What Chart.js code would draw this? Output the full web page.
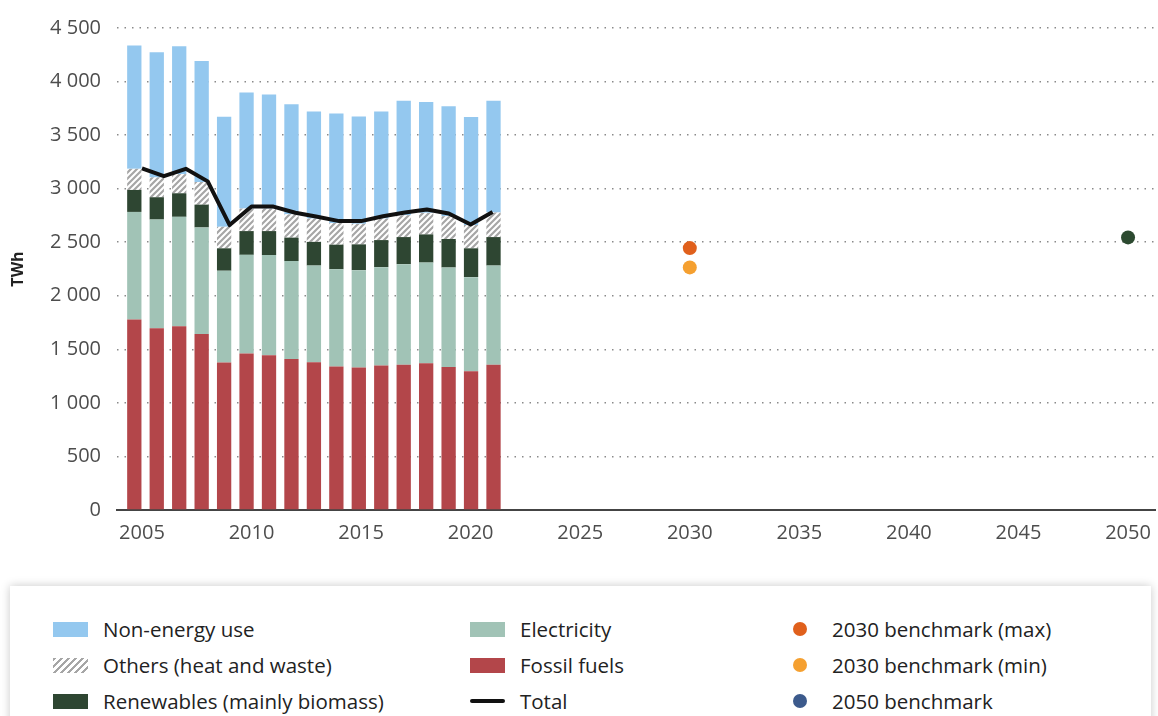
<!DOCTYPE html>
<html>
<head>
<meta charset="utf-8">
<script src="https://cdn.jsdelivr.net/npm/chart.js@4"></script>
<style>
    body { margin: 0; background: #fff; font-family: "Open Sans", "Noto Sans", sans-serif; overflow: hidden; }
    #chartBox { position: absolute; left: 0; top: 0; width: 1158px; height: 560px; }
    #legendBox {
        position: absolute; left: 10px; top: 586px; width: 1141px; height: 150px;
        background: #fff; box-shadow: 0 0 9px rgba(0, 0, 0, 0.22);
    }
    .legend-col { position: absolute; top: 25px; }
    .legend-item { display: flex; align-items: center; height: 36px; font-size: 20.5px; color: #222; white-space: nowrap; }
    .swatch { width: 35px; height: 15px; margin-right: 15px; }
    .swatch-line { width: 35px; height: 4px; margin: 0 15px 0 0; background: #111; border-radius: 2px; }
    .dot { width: 14px; height: 14px; border-radius: 50%; margin: 0 25px 0 0; }
</style>
</head>
<body>
<div id="chartBox"><canvas id="energyChart"></canvas></div>
<div id="legendBox">
    <div class="legend-col" style="left: 43px;">
        <div class="legend-item"><span class="swatch" style="background:#94c8ef"></span>Non-energy use</div>
        <div class="legend-item"><span class="swatch" style="background:repeating-linear-gradient(135deg,#a6a6a6 0 2.5px,#fff 2.5px 5px)"></span>Others (heat and waste)</div>
        <div class="legend-item"><span class="swatch" style="background:#2e4632"></span>Renewables (mainly biomass)</div>
    </div>
    <div class="legend-col" style="left: 460px;">
        <div class="legend-item"><span class="swatch" style="background:#a1c3b6"></span>Electricity</div>
        <div class="legend-item"><span class="swatch" style="background:#b3464a"></span>Fossil fuels</div>
        <div class="legend-item"><span class="swatch-line"></span>Total</div>
    </div>
    <div class="legend-col" style="left: 783px;">
        <div class="legend-item"><span class="dot" style="background:#e0601c"></span>2030 benchmark (max)</div>
        <div class="legend-item"><span class="dot" style="background:#f5a030"></span>2030 benchmark (min)</div>
        <div class="legend-item"><span class="dot" style="background:#3c5a8c"></span>2050 benchmark</div>
    </div>
</div>
<script>
// 年度資料（TWh），由圖上讀出的估計值
const years = [2005, 2006, 2007, 2008, 2009, 2010, 2011, 2012, 2013, 2014, 2015, 2016, 2017, 2018, 2019, 2020, 2021];
const fossilFuels = [1779, 1698, 1716, 1642, 1376, 1460, 1444, 1409, 1380, 1339, 1330, 1348, 1357, 1370, 1336, 1296, 1357];
const electricity = [1004, 1014, 1021, 996, 858, 922, 936, 915, 902, 909, 909, 919, 938, 940, 928, 878, 925];
const renewables = [205, 208, 220, 213, 209, 222, 224, 219, 221, 229, 241, 253, 253, 263, 266, 269, 266];
const others = [197, 185, 179, 211, 201, 210, 210, 217, 218, 202, 192, 201, 204, 201, 213, 217, 229];
const nonEnergyUse = [1151, 1169, 1194, 1129, 1027, 1083, 1064, 1027, 999, 1023, 1002, 999, 1068, 1036, 1027, 1008, 1043];
const total = [3190, 3117, 3185, 3068, 2660, 2833, 2833, 2775, 2737, 2697, 2697, 2743, 2777, 2805, 2768, 2666, 2783];

const benchmarkMax2030 = 2445;
const benchmarkMin2030 = 2265;
const benchmark2050 = 2545;

const xTickYears = [2005, 2010, 2015, 2020, 2025, 2030, 2035, 2040, 2045, 2050];
const yTickValues = [0, 500, 1000, 1500, 2000, 2500, 3000, 3500, 4000, 4500];

// 斜線花紋給「Others」用
function makeHatch() {
    const tile = document.createElement("canvas");
    tile.width = 6;
    tile.height = 6;
    const c = tile.getContext("2d");
    c.fillStyle = "#ffffff";
    c.fillRect(0, 0, 6, 6);
    c.strokeStyle = "#a6a6a6";
    c.lineWidth = 2.2;
    c.beginPath();
    c.moveTo(-1, 7); c.lineTo(7, -1);
    c.moveTo(-4, 4); c.lineTo(4, -4);
    c.moveTo(2, 10); c.lineTo(10, 2);
    c.stroke();
    return c.createPattern(tile, "repeat");
}

function toPoints(values) {
    return values.map((v, i) => ({ x: years[i], y: v }));
}

function formatThousands(v) {
    return String(v).replace(/\B(?=(\d{3})+(?!\d))/g, " ");
}

Chart.defaults.font.family = "'Open Sans', 'Noto Sans', sans-serif";
Chart.defaults.color = "#4d4d4d";

// grouped: false 讓柱子正好置中在年份上，寬度用 maxBarThickness 限制
function barSet(label, values, color) {
    return {
        type: "bar",
        label: label,
        data: toPoints(values),
        backgroundColor: color,
        xAxisID: "xBar",
        stack: "bars",
        grouped: false,
        maxBarThickness: 14.3,
        borderWidth: 0
    };
}

function pointSet(label, x, y, color, stack) {
    return {
        type: "scatter",
        label: label,
        data: [{ x: x, y: y }],
        backgroundColor: color,
        pointRadius: 7,
        borderWidth: 0,
        xAxisID: "x",
        stack: stack,
        order: -1
    };
}

const ctx = document.getElementById("energyChart");
new Chart(ctx, {
    type: "bar",
    data: {
        datasets: [
            {
                type: "line",
                label: "Total",
                data: toPoints(total),
                borderColor: "#111111",
                borderWidth: 4,
                pointRadius: 0,
                tension: 0,
                borderJoinStyle: "round",
                xAxisID: "x",
                stack: "total",
                order: -1
            },
            pointSet("2030 benchmark (max)", 2030, benchmarkMax2030, "#e0601c", "b1"),
            pointSet("2030 benchmark (min)", 2030, benchmarkMin2030, "#f5a030", "b2"),
            pointSet("2050 benchmark", 2050, benchmark2050, "#2c4a30", "b3"),
            barSet("Fossil fuels", fossilFuels, "#b3464a"),
            barSet("Electricity", electricity, "#a1c3b6"),
            barSet("Renewables (mainly biomass)", renewables, "#2e4632"),
            barSet("Others (heat and waste)", others, makeHatch()),
            barSet("Non-energy use", nonEnergyUse, "#94c8ef")
        ]
    },
    options: {
        responsive: true,
        maintainAspectRatio: false,
        animation: false,
        layout: { autoPadding: false, padding: { top: 24, right: 3, left: 0, bottom: 0 } },
        plugins: {
            legend: { display: false },
            tooltip: { enabled: true }
        },
        scales: {
            x: {
                type: "linear",
                offset: false,
                min: 2003.86,
                max: 2051.23,
                afterBuildTicks: (scale) => {
                    scale.ticks = xTickYears.map((v) => ({ value: v }));
                },
                afterFit: (scale) => {
                    scale.height = 50;
                    scale.paddingLeft = 0;
                    scale.paddingRight = 0;
                },
                ticks: {
                    callback: (v) => String(v),
                    font: { size: 20 },
                    padding: 11,
                    maxRotation: 0,
                    autoSkip: false
                },
                grid: { display: false, drawTicks: false },
                border: { display: true, color: "#444444", width: 2 }
            },
            // 柱狀圖的年份間距和刻度不同，另外用一條看不見的軸
            xBar: {
                type: "linear",
                position: "top",
                offset: false,
                stacked: true,
                min: 2004.229,
                max: 2050.465,
                afterFit: (scale) => {
                    scale.height = 0;
                    scale.paddingLeft = 0;
                    scale.paddingRight = 0;
                },
                ticks: { display: false },
                grid: { display: false, drawTicks: false },
                border: { display: false }
            },
            y: {
                stacked: true,
                min: 0,
                max: 4500,
                afterBuildTicks: (scale) => {
                    scale.ticks = yTickValues.map((v) => ({ value: v }));
                },
                afterFit: (scale) => { scale.width = 117; },
                ticks: {
                    callback: (v) => formatThousands(v),
                    font: { size: 20 },
                    padding: 16
                },
                grid: { color: "#8a8a8a", lineWidth: 1.5, drawTicks: false },
                border: { display: false, dash: [1.5, 6] },
                title: {
                    display: true,
                    text: "TWh",
                    color: "#222222",
                    font: { size: 16, weight: "bold" },
                    padding: { top: 9, bottom: 0 }
                }
            }
        }
    }
});
</script>
</body>
</html>
